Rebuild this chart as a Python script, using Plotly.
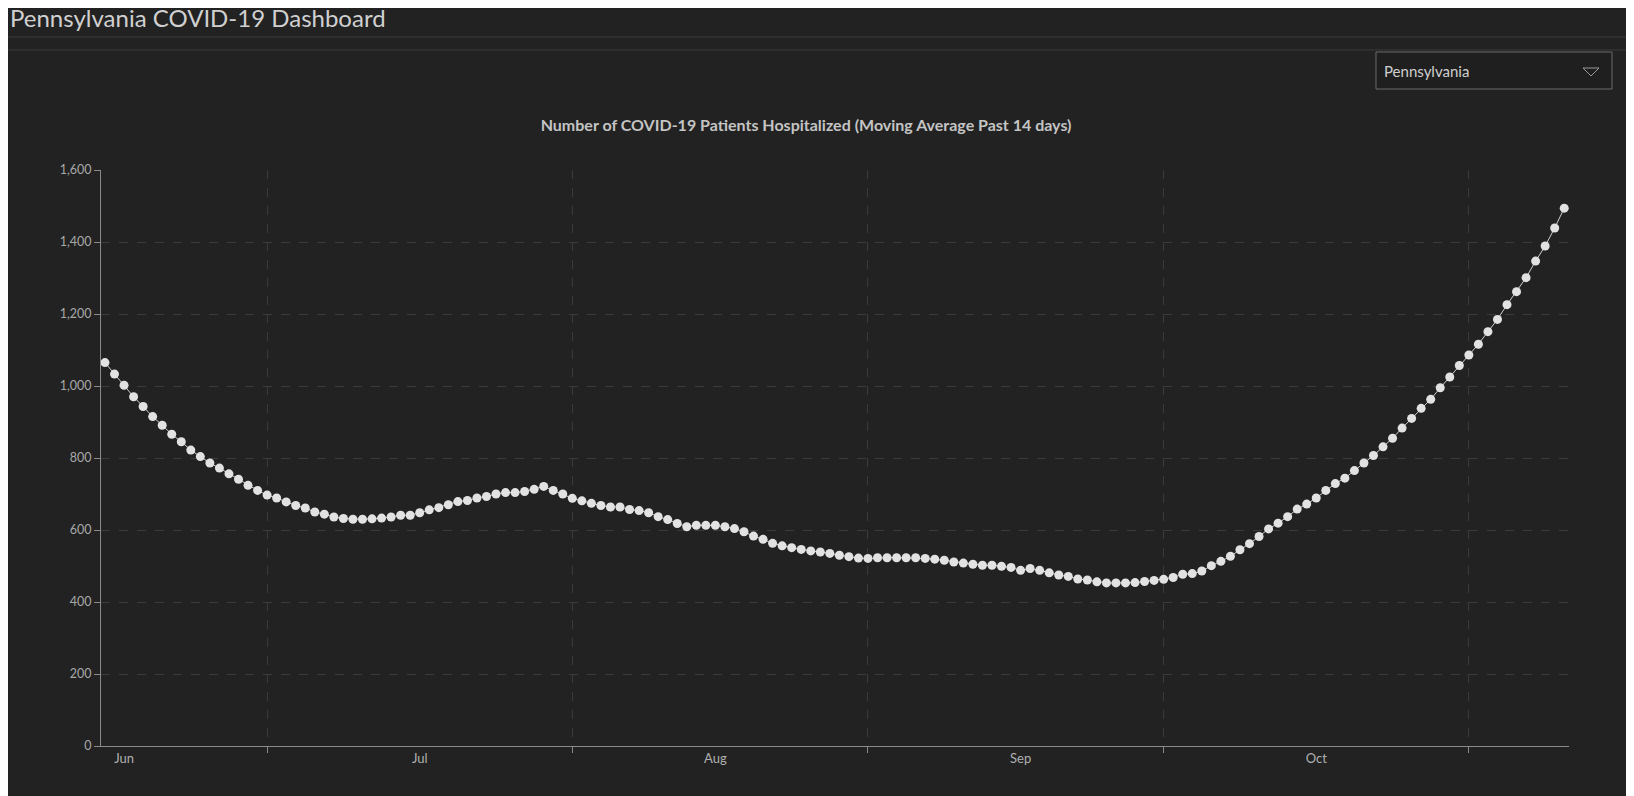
import plotly.graph_objects as go
import pandas as pd

start_date = "2020-05-30"
hospitalized = [
    1065,1033,1002,970,943,915,891,866,845,822,804,786,772,756,741,724,710,697,689,678,
    668,661,650,644,636,632,630,630,631,633,636,641,641,648,656,662,670,679,682,689,
    693,700,704,704,707,713,721,710,700,688,681,674,668,664,
    664,657,654,648,637,629,618,609,613,613,613,609,604,595,583,574,563,556,551,546,
    542,539,535,530,526,522,521,523,523,523,523,523,521,519,516,511,508,505,502,502,
    499,496,488,493,488,481,475,471,464,461,456,453,453,453,
    454,457,
    460,463,468,477,479,486,501,513,527,545,562,582,603,619,637,658,672,689,710,729,
    744,765,786,807,831,855,883,910,938,963,995,1025,1057,1086,1116,1151,1185,1226,1262,1301,
    1347,1389,1439,1494]
dates = pd.date_range(start_date, periods=len(hospitalized), freq="D")

month_label_dates = ["2020-06-01", "2020-07-02", "2020-08-02", "2020-09-03", "2020-10-04"]
month_labels = ["Jun", "Jul", "Aug", "Sep", "Oct"]
grid_dates = ["2020-06-16", "2020-07-18", "2020-08-18", "2020-09-18", "2020-10-20"]
y_ticks = [0, 200, 400, 600, 800, 1000, 1200, 1400, 1600]

BG = "#222222"
W, H = 1634, 796
OFF = 8  # page offset of the figure
L, R, T, B = 93, 73, 162, 58
PW, PH = W - L - R, H - T - B

def px(X):  # page x -> paper
    return (X - OFF - L) / PW

def py(Y):  # page y -> paper
    return 1 - (Y - OFF - T) / PH

xrange = [pd.Timestamp(start_date) - pd.Timedelta(hours=10), dates[-1] + pd.Timedelta(days=0.5)]

fig = go.Figure()
fig.add_trace(go.Scatter(
    x=dates, y=hospitalized, mode="lines+markers",
    line=dict(color="#cfcfcf", width=1),
    marker=dict(size=9, color="#e2e2e2"),
    hoverinfo="x+y", showlegend=False))
fig.add_trace(go.Scatter(x=[dates[0], dates[-1]], y=[0, 0], xaxis="x2",
                         mode="none", showlegend=False, hoverinfo="skip"))

fig.update_layout(
    width=W, height=H,
    paper_bgcolor=BG, plot_bgcolor=BG,
    margin=dict(l=L, r=R, t=T, b=B),
    font=dict(family="Lato, Open Sans, sans-serif", color="#a8a8a8", size=12),
    xaxis=dict(range=xrange, tickvals=month_label_dates, ticktext=month_labels,
               showgrid=False, zeroline=False, showline=True, linecolor="#8a8a8a",
               ticks="", tickfont=dict(size=13, color="#b0b0b0")),
    xaxis2=dict(range=xrange, overlaying="x", side="bottom", tickvals=grid_dates,
                showticklabels=False, showgrid=True, griddash="dash", gridcolor="#3b3b3b",
                ticks="outside", ticklen=6, tickcolor="#8a8a8a", showline=False),
    yaxis=dict(range=[0, 1600], tickvals=y_ticks, tickformat=",", showgrid=True,
               griddash="dash", gridcolor="#3b3b3b", zeroline=False, showline=True,
               linecolor="#8a8a8a", ticks="outside", ticklen=6, tickcolor="#8a8a8a",
               tickfont=dict(size=12.5, color="#a8a8a8")),
    title=dict(text="Number of COVID-19 Patients Hospitalized (Moving Average Past 14 days)",
               x=px(818), xanchor="center", y=1 - (125 - OFF) / H, yanchor="middle",
               font=dict(size=16, color="#c4c4c4", family="Lato, sans-serif", weight="bold")),
    shapes=[
        dict(type="line", xref="paper", yref="paper", x0=px(-20), x1=px(1660),
             y0=py(37), y1=py(37), line=dict(color="#3a3a3a", width=1)),
        dict(type="rect", xref="paper", yref="paper", x0=px(6), x1=px(1628),
             y0=py(800), y1=py(50), line=dict(color="#3a3a3a", width=1)),
        dict(type="rect", xref="paper", yref="paper", x0=px(1376), x1=px(1612),
             y0=py(89), y1=py(52), line=dict(color="#6a6a6a", width=1),
             fillcolor="#1f1f1f"),
        dict(type="path", xref="paper", yref="paper",
             path="M {a},{b} L {c},{b} L {d},{e} Z".format(
                 a=px(1583), c=px(1599), d=px(1591), b=py(68), e=py(76)),
             line=dict(color="#9a9a9a", width=1)),
    ],
    annotations=[
        dict(text="Pennsylvania COVID-19 Dashboard", xref="paper", yref="paper",
             x=px(8), y=py(17), xanchor="left", yanchor="middle",
             showarrow=False, font=dict(size=24, color="#d0d0d0", family="Lato, sans-serif")),
        dict(text="Pennsylvania", xref="paper", yref="paper",
             x=px(1382), y=py(71), xanchor="left", yanchor="middle",
             showarrow=False, font=dict(size=15, color="#cfcfcf", family="Lato, sans-serif")),
    ],
)
fig.write_html("out.html")
